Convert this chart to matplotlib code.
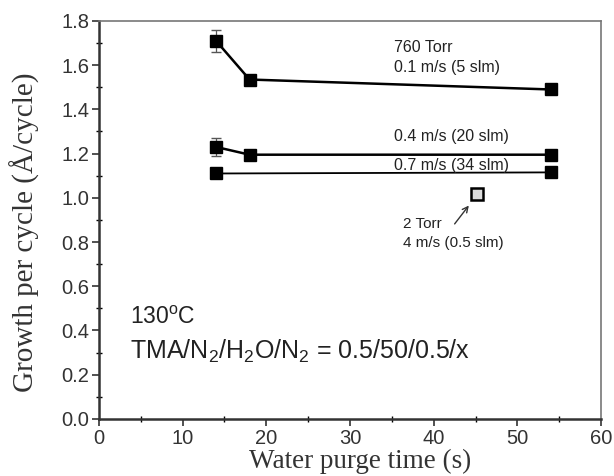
import matplotlib
matplotlib.use("Agg")
import matplotlib.pyplot as plt
from matplotlib.ticker import MultipleLocator, FormatStrFormatter

# Data
purge_760_01 = [14, 18, 54]
gpc_760_01 = [1.71, 1.535, 1.49]
err_760_01 = [0.05, 0.02, 0.0]

purge_04 = [14, 18, 54]
gpc_04 = [1.23, 1.195, 1.195]
err_04 = [0.04, 0.0, 0.0]

purge_07 = [14, 54]
gpc_07 = [1.11, 1.115]

purge_2torr = [45.2]
gpc_2torr = [1.015]

plt.rcParams['font.family'] = ['Liberation Sans', 'DejaVu Sans']
plt.rcParams['mathtext.fontset'] = 'custom'
plt.rcParams['mathtext.rm'] = 'Liberation Sans'
plt.rcParams['mathtext.it'] = 'Liberation Sans:italic'

fig = plt.figure(figsize=(6.14, 4.76), dpi=100)
ax = fig.add_axes([0.161, 0.12, 0.818, 0.836])

ax.errorbar(purge_760_01, gpc_760_01, yerr=err_760_01, color='black', lw=1.8,
            marker='s', ms=8, capsize=3.5, elinewidth=0.9, ecolor='#555555')
ax.errorbar(purge_04, gpc_04, yerr=err_04, color='black', lw=1.8,
            marker='s', ms=8, capsize=3.5, elinewidth=0.9, ecolor='#555555')
ax.plot(purge_07, gpc_07, color='black', lw=1.3, marker='s', ms=8)
ax.plot(purge_2torr, gpc_2torr, linestyle='none', marker='s', ms=8.5,
        mfc='#dddddd', mec='black', mew=1.8)

ax.set_xlim(0, 60)
ax.set_ylim(0, 1.8)
ax.xaxis.set_major_locator(MultipleLocator(10))
ax.xaxis.set_minor_locator(MultipleLocator(5))
ax.yaxis.set_major_locator(MultipleLocator(0.2))
ax.yaxis.set_minor_locator(MultipleLocator(0.1))
ax.yaxis.set_major_formatter(FormatStrFormatter('%.1f'))
ax.tick_params(which='major', direction='out', length=5, width=1.2,
               labelsize=14.5, colors='#333333', top=False, right=False, pad=2)
ax.tick_params(which='minor', direction='inout', length=4, width=1.0,
               top=False, right=False)

ax.spines['left'].set_linewidth(1.8)
ax.spines['bottom'].set_linewidth(1.8)
ax.spines['left'].set_color('#333333')
ax.spines['bottom'].set_color('#333333')
for s in ['top', 'right']:
    ax.spines[s].set_linewidth(1.2)
    ax.spines[s].set_color('#777777')

ax.set_xlabel('Water purge time (s)', family='Liberation Serif', fontsize=19.5,
              color='#333333')
ax.set_ylabel('Growth per cycle (Å/cycle)', family='Liberation Serif', fontsize=21,
              color='#333333')
ax.xaxis.set_label_coords(0.52, -0.075)
ax.yaxis.set_label_coords(-0.118, 0.47)

tc = '#222222'
fs = 11.5
ax.text(35.2, 1.68, '760 Torr', fontsize=fs, color=tc, va='center')
ax.text(35.2, 1.59, '0.1 m/s (5 slm)', fontsize=fs, color=tc, va='center')
ax.text(35.2, 1.277, '0.4 m/s (20 slm)', fontsize=fs, color=tc, va='center')
ax.text(35.2, 1.145, '0.7 m/s (34 slm)', fontsize=fs, color=tc, va='center')
ax.text(36.3, 0.883, '2 Torr', fontsize=11, color=tc, va='center')
ax.text(36.3, 0.796, '4 m/s (0.5 slm)', fontsize=11, color=tc, va='center')
ax.annotate('', xy=(44.4, 0.975), xytext=(42.3, 0.872),
            arrowprops=dict(arrowstyle='->', color='#333333', lw=1.0))

ax.text(3.7, 0.457, '130$^{\\mathrm{o}}$C', fontsize=16.5, color=tc, va='center')
ax.text(3.7, 0.303, 'TMA/N$_2$/H$_2$O/N$_2$ = 0.5/50/0.5/x', fontsize=18,
        color=tc, va='center')

fig.savefig('out.png', dpi=100)
